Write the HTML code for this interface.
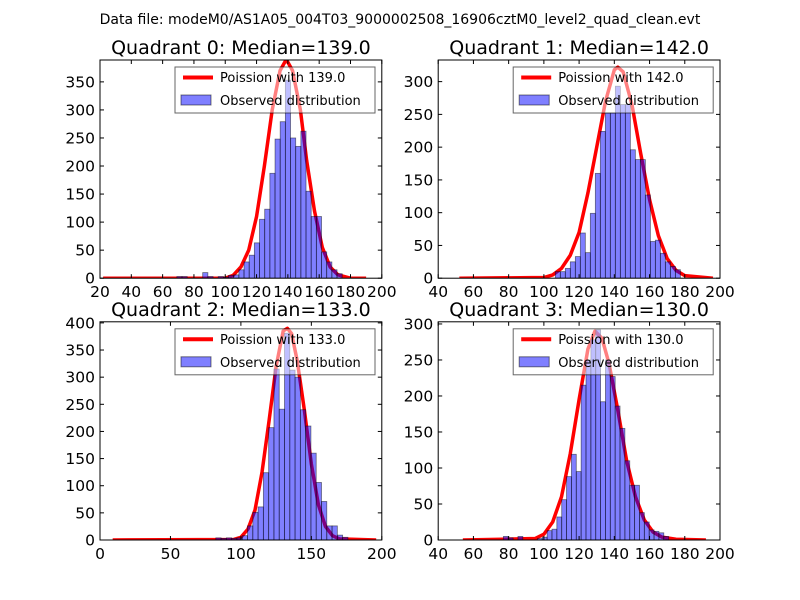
<!DOCTYPE html>
<html><head><meta charset="utf-8"><style>
html,body{margin:0;padding:0;background:#fff;}
svg{display:block;font-family:"DejaVu Sans","Liberation Sans",sans-serif;}
</style></head><body>
<svg id="fig" width="800" height="600" viewBox="0 0 800 600">
<text x="400" y="24" text-anchor="middle" font-size="14">Data file: modeM0/AS1A05_004T03_9000002508_16906cztM0_level2_quad_clean.evt</text>
</svg>
<script>
// Quadrant 0
const q0Start = 65.8, q0Width = 3.3;
const q0Counts = [0,3,3,0,0,0,10,3,0,3,2,5,6,15,29,41,63,105,123,187,248,279,353,250,235,262,155,110,110,47,29,15,8,0];
const q0CurveX = [22,100,105,110,115,120,125,130,135,139,143,148,152,157,162,167,172,180,190];
const q0CurveY = [0,0,5,20,50,110,200,300,370,390,370,300,210,120,55,20,6,0,0];
// Quadrant 1
const q1Start = 106.5, q1Width = 2.84;
const q1Counts = [10,10,15,25,33,69,39,99,160,224,252,252,293,265,265,196,181,181,127,56,58,38,25,18,13];
const q1CurveX = [52,100,105,110,115,120,125,130,135,140,142,145,150,155,160,165,170,175,180,196];
const q1CurveY = [0,1,5,15,35,70,130,200,270,318,322,315,265,190,120,65,30,12,4,0];
// Quadrant 2
const q2Start = 82.2, q2Width = 3.75;
const q2Counts = [4,3,4,3,4,8,26,51,61,124,207,315,241,381,313,300,240,210,160,106,71,26,26,9,5];
const q2CurveX = [9,95,100,105,110,115,120,125,130,133,136,140,145,150,155,160,165,170,196];
const q2CurveY = [0,1,5,20,55,125,220,320,385,390,380,330,240,140,65,25,8,2,0];
// Quadrant 3
const q3Start = 77.0, q3Width = 2.76;
const q3Counts = [5,3,0,5,0,0,0,2,4,13,15,32,56,88,119,95,215,250,278,292,192,250,227,186,155,110,76,76,38,25,14,12,10,5];
const q3CurveX = [54,95,100,105,110,115,120,125,129,133,137,142,147,152,157,162,167,175,192];
const q3CurveY = [0,2,8,25,60,120,195,265,290,280,245,180,110,60,28,11,4,1,0];

const titles = ["Quadrant 0: Median=139.0","Quadrant 1: Median=142.0","Quadrant 2: Median=133.0","Quadrant 3: Median=130.0"];
const medians = ["139.0","142.0","133.0","130.0"];
const xTicks = [[20,40,60,80,100,120,140,160,180,200],[40,60,80,100,120,140,160,180,200],[0,50,100,150,200],[40,60,80,100,120,140,160,180,200]];
const yTicks = [[0,50,100,150,200,250,300,350],[0,50,100,150,200,250,300],[0,50,100,150,200,250,300,350,400],[0,50,100,150,200,250,300]];
const xLims = [[20,200],[40,200],[0,200],[40,200]];
const yMax = [389,333,402,303];

const NS = "http://www.w3.org/2000/svg";
const fig = document.getElementById('fig');
function mk(tag, attrs, parent){const e=document.createElementNS(NS,tag);for(const k in attrs)e.setAttribute(k,attrs[k]);(parent||fig).appendChild(e);return e;}

const boxes = [[100,60],[438.2,60],[100,321.8],[438.2,321.8]];
const W = 281.8, H = 218.2;
const data = [
 [q0Start,q0Width,q0Counts,q0CurveX,q0CurveY],
 [q1Start,q1Width,q1Counts,q1CurveX,q1CurveY],
 [q2Start,q2Width,q2Counts,q2CurveX,q2CurveY],
 [q3Start,q3Width,q3Counts,q3CurveX,q3CurveY]];

for(let q=0;q<4;q++){
  const [L,T]=boxes[q];
  const g=mk('g',{});
  
  
  const xs=v=>L+(v-xLims[q][0])/(xLims[q][1]-xLims[q][0])*W;
  const ys=v=>T+H-v/yMax[q]*H;
  const clipId='clip'+q;
  const cp=mk('clipPath',{id:clipId},g);
  mk('rect',{x:L,y:T,width:W,height:H},cp);
  const plot=mk('g',{'clip-path':'url(#'+clipId+')'},g);
  const [st,bw,counts,cx,cy]=data[q];
  let d='';
  for(let i=0;i<cx.length;i++){d+=(i?'L':'M')+xs(cx[i]).toFixed(2)+','+ys(cy[i]).toFixed(2);}
  const line=mk('path',{d:d,fill:'none',stroke:'#ff0000','stroke-width':3.5,'stroke-linejoin':'round'},plot);
  
  
  for(let i=0;i<counts.length;i++){
    if(counts[i]<=0)continue;
    const x0=xs(st+i*bw),x1=xs(st+(i+1)*bw);
    const r=mk('rect',{x:x0,y:ys(counts[i]),width:x1-x0,height:ys(0)-ys(counts[i]),fill:'#0000ff','fill-opacity':0.5,stroke:'#000','stroke-opacity':0.5,'stroke-width':0.8},plot);
    
    
  }
  const fr=mk('rect',{x:L,y:T,width:W,height:H,fill:'none',stroke:'#000','stroke-width':1},g);
  
  
  xTicks[q].forEach(v=>{
    const x=xs(v);
    mk('line',{x1:x,y1:T+H,x2:x,y2:T+H-4,stroke:'#000'},g);
    mk('line',{x1:x,y1:T,x2:x,y2:T+4,stroke:'#000'},g);
    const t=mk('text',{x:x,y:T+H+19,'text-anchor':'middle','font-size':15.5},g);
    t.textContent=v;
    
    
  });
  yTicks[q].forEach(v=>{
    const y=ys(v);
    mk('line',{x1:L,y1:y,x2:L+4,y2:y,stroke:'#000'},g);
    mk('line',{x1:L+W,y1:y,x2:L+W-4,y2:y,stroke:'#000'},g);
    const t=mk('text',{x:L-5,y:y+5.5,'text-anchor':'end','font-size':15.5},g);
    t.textContent=v;
    
    
  });
  const tt=mk('text',{x:L+W/2,y:T-6,'text-anchor':'middle','font-size':19},g);
  tt.textContent=titles[q];
  
  
  const lx=L+75, ly=T+7;
  const lg=mk('g',{},g);
  
  
  mk('rect',{x:lx,y:ly,width:200,height:46,fill:'#fff','fill-opacity':0.5,stroke:'#000','stroke-width':1,'stroke-opacity':0.6},lg);
  mk('line',{x1:lx+8,y1:ly+10.5,x2:lx+38,y2:ly+10.5,stroke:'#ff0000','stroke-width':4},lg);
  const t1=mk('text',{x:lx+45,y:ly+15,'font-size':13},lg);
  t1.textContent='Poission with '+medians[q];
  
  
  mk('rect',{x:lx+6,y:ly+28,width:30,height:10,fill:'#0000ff','fill-opacity':0.5,stroke:'#000','stroke-opacity':0.5},lg);
  const t2=mk('text',{x:lx+45,y:ly+38,'font-size':13},lg);
  t2.textContent='Observed distribution';
  
  
}
</script>
</body></html>
